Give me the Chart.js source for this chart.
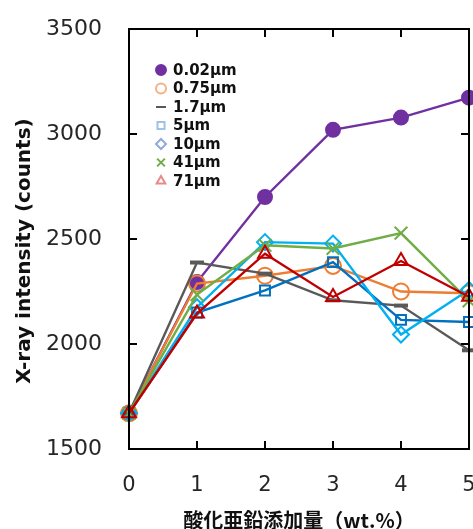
<!DOCTYPE html>
<html>
<head>
<meta charset="utf-8">
<script src="https://cdn.jsdelivr.net/npm/chart.js@4/dist/chart.umd.min.js"></script>
<style>
    html, body { margin: 0; padding: 0; background: #fff; }
    #wrap { width: 473px; height: 529px; }
</style>
</head>
<body>
<div id="wrap"><canvas id="graph"></canvas></div>
<script>
// ZnO addition (wt.%) on the x axis
const additions = [0, 1, 2, 3, 4, 5];
const sizeLabels = ["0.02µm", "0.75µm", "1.7µm", "5µm", "10µm", "41µm", "71µm"];

// X-ray intensity (counts) per particle size
const size002 = [1670, 2295, 2700, 3020, 3078, 3173];
const size075 = [1670, 2288, 2325, 2372, 2250, 2242];
const size17 = [1670, 2388, 2335, 2208, 2183, 1970];
const size5 = [1670, 2150, 2255, 2390, 2115, 2105];
const size10 = [1670, 2175, 2485, 2478, 2045, 2258];
const size41 = [1670, 2235, 2470, 2455, 2528, 2205];
const size71 = [1670, 2145, 2430, 2224, 2395, 2225];

const xTicks = [0, 1, 2, 3, 4, 5];
const yTicks = [1500, 2000, 2500, 3000, 3500];

const series = [size002, size075, size17, size5, size10, size41, size71];
const lineColors = ["#7030A0", "#ED7D31", "#595959", "#0070C0", "#00B0F0", "#70AD47", "#C00000"];
const legendColors = ["#7030A0", "#F4B183", "#595959", "#9DC3E6", "#8FAADC", "#70AD47", "#E98A8A"];
const markers = ["circle", "circle", "line", "rect", "rectRot", "crossRot", "triangle"];
const markerSizes = [7, 8, 7, 7, 8, 9, 8];

const datasets = series.map((values, i) => ({
    label: sizeLabels[i],
    data: values.map((v, j) => ({ x: additions[j], y: v })),
    borderColor: lineColors[i],
    borderWidth: 2.4,
    pointStyle: markers[i],
    pointRadius: markerSizes[i],
    pointBorderWidth: i === 2 ? 4 : 2,
    pointBorderColor: lineColors[i],
    pointBackgroundColor: i === 0 ? lineColors[i] : "transparent",
    fill: false,
    tension: 0,
    clip: false,
    order: series.length - i // later sizes sit on top
}));

const font = "'DejaVu Sans', Verdana, sans-serif";

// box around the plot with inward tick marks on all four sides
const frame = {
    id: "frame",
    afterDatasetsDraw(chart) {
        const { ctx, chartArea: a, scales } = chart;
        ctx.save();
        ctx.strokeStyle = "#000";
        ctx.lineWidth = 2;
        ctx.strokeRect(a.left, a.top, a.right - a.left, a.bottom - a.top);
        ctx.beginPath();
        xTicks.forEach(t => {
            const px = scales.x.getPixelForValue(t);
            ctx.moveTo(px, a.bottom); ctx.lineTo(px, a.bottom - 8);
            ctx.moveTo(px, a.top); ctx.lineTo(px, a.top + 8);
        });
        yTicks.forEach(t => {
            const py = scales.y.getPixelForValue(t);
            ctx.moveTo(a.left, py); ctx.lineTo(a.left + 8, py);
            ctx.moveTo(a.right, py); ctx.lineTo(a.right - 8, py);
        });
        ctx.stroke();
        ctx.restore();
    }
};

// legend list in the upper left of the plot, plus the rotated y title
const sideText = {
    id: "sideText",
    afterDraw(chart) {
        const ctx = chart.ctx;
        ctx.save();
        chart.data.datasets.forEach((ds, i) => {
            const y = 70 + i * 18.5;
            ctx.strokeStyle = legendColors[i];
            ctx.fillStyle = i === 0 ? legendColors[i] : "rgba(0,0,0,0)";
            Chart.helpers.drawPoint(ctx, {
                pointStyle: ds.pointStyle,
                radius: i === 5 ? 5.5 : 5,
                borderWidth: i === 2 ? 2 : 1.3,
                rotation: 0
            }, 161, y);
            ctx.fillStyle = "#111";
            ctx.font = "bold 15px " + font;
            ctx.textBaseline = "middle";
            ctx.textAlign = "left";
            ctx.fillText(ds.label, 173, y + 1);
        });
        ctx.translate(25, 251);
        ctx.rotate(-Math.PI / 2);
        ctx.textAlign = "center";
        ctx.textBaseline = "middle";
        ctx.font = "bold 20px " + font;
        ctx.fillStyle = "#111";
        ctx.fillText("X-ray intensity (counts)", 0, 0);
        ctx.restore();
    }
};

const graph = document.getElementById("graph");
new Chart(graph, {
    type: "line",
    data: { datasets },
    options: {
        responsive: true,
        maintainAspectRatio: false,
        animation: false,
        layout: { autoPadding: false, padding: { top: 29, right: 4, left: 0, bottom: 0 } },
        plugins: {
            legend: { display: false },
            tooltip: { enabled: false }
        },
        scales: {
            x: {
                type: "linear",
                min: 0,
                max: 5,
                afterBuildTicks: s => { s.ticks = xTicks.map(v => ({ value: v })); },
                afterFit: s => { s.height = 80; s.paddingRight = 0; s.paddingLeft = 0; },
                grid: { display: false },
                border: { display: false },
                ticks: {
                    color: "#262626",
                    font: { family: font, size: 21 },
                    padding: 16,
                    callback: v => String(v)
                },
                title: {
                    display: true,
                    text: "酸化亜鉛添加量（wt.%）",
                    color: "#111",
                    font: { family: "'Noto Sans CJK JP', sans-serif", size: 20, weight: "bold" },
                    padding: { top: 0, bottom: -3 }
                }
            },
            y: {
                min: 1500,
                max: 3500,
                afterBuildTicks: s => { s.ticks = yTicks.map(v => ({ value: v })); },
                afterFit: s => { s.width = 129; s.paddingTop = 0; s.paddingBottom = 0; },
                grid: { display: false },
                border: { display: false },
                ticks: {
                    color: "#262626",
                    font: { family: font, size: 22 },
                    padding: 19,
                    callback: v => String(v)
                }
            }
        }
    },
    plugins: [frame, sideText]
});
</script>
</body>
</html>
